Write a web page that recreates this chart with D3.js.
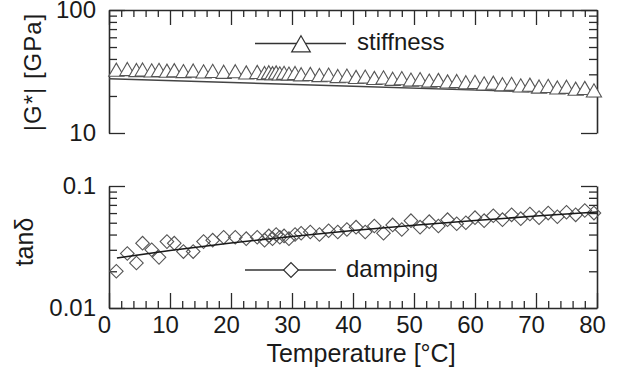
<!DOCTYPE html>
<html>
<head>
<meta charset="utf-8">
<script src="https://cdnjs.cloudflare.com/ajax/libs/d3/7.8.5/d3.min.js"></script>
<style>
  html, body { margin: 0; padding: 0; background: #fff; }
  svg { display: block; font-family: "Liberation Sans", Arial, Helvetica, sans-serif; }
</style>
</head>
<body>
<svg id="chart" width="624" height="374"></svg>
<script>
// ---------- data ----------
const temps = [1.2, 3, 4.5, 5.5, 7, 8.2, 9.5, 10.7, 12.2, 13.8, 15.5, 17, 18.8, 20.7, 22.5,
  24.3, 25.5, 26.2, 26.8, 27.4, 28, 28.7, 29.5, 30.5, 31.5, 33, 34.5, 36, 37.5, 39,
  40.5, 42, 43.5, 45, 46.5, 48, 49.5, 51, 52.5, 54, 55.5, 57, 58.5, 60, 61.5,
  63, 64.5, 66, 67.5, 69, 70.5, 72, 73.5, 75, 76.5, 78, 79.5];

const stiffness = [31.4, 31.8, 31.2, 31.5, 31.0, 31.3, 30.8, 31.1, 30.6, 30.9, 30.4, 30.7, 30.2, 30.5, 29.8,
  30.1, 29.5, 29.9, 29.4, 29.8, 29.3, 29.6, 29.2, 29.5, 28.8, 29.0, 28.4, 28.6, 27.9, 28.1,
  27.4, 27.6, 26.9, 27.2, 26.5, 26.8, 26.1, 26.3, 25.6, 25.9, 25.2, 25.4, 24.8, 25.0, 24.3,
  24.6, 23.9, 24.1, 23.4, 23.7, 22.9, 23.2, 22.5, 22.8, 22.0, 22.3, 21.3];

const damping = [0.020, 0.028, 0.0234, 0.034, 0.030, 0.026, 0.035, 0.034, 0.029, 0.029, 0.035, 0.036, 0.038, 0.038, 0.037,
  0.038, 0.036, 0.039, 0.037, 0.040, 0.038, 0.039, 0.037, 0.040, 0.041, 0.042, 0.040, 0.043, 0.042, 0.044,
  0.046, 0.042, 0.047, 0.041, 0.048, 0.044, 0.052, 0.046, 0.051, 0.047, 0.053, 0.049, 0.050, 0.055, 0.052,
  0.057, 0.053, 0.058, 0.054, 0.059, 0.055, 0.060, 0.056, 0.061, 0.058, 0.063, 0.060];

const stiffFitT = [0, 40, 80];
const stiffFit = [27.6, 24.0, 20.8];
const dampFitT = [1.3, 10, 20, 30, 40, 50, 60, 70, 80];
const dampFit = [0.0257, 0.0296, 0.0341, 0.0386, 0.0432, 0.0477, 0.0522, 0.0567, 0.0612];

const xMajor = [0, 10, 20, 30, 40, 50, 60, 70, 80];
const xMinor = [2, 4, 6, 8, 12, 14, 16, 18, 22, 24, 26, 28, 32, 34, 36, 38, 42, 44, 46, 48,
  52, 54, 56, 58, 62, 64, 66, 68, 72, 74, 76, 78];
const stiffMajor = [10, 100];
const stiffMinor = [20, 30, 40, 50, 60, 70, 80, 90];
const dampMajor = [0.01, 0.1];
const dampMinor = [0.02, 0.03, 0.04, 0.05, 0.06, 0.07, 0.08, 0.09];

const legendStiff = "stiffness";
const legendDamp = "damping";

// ---------- scales ----------
const svg = d3.select("#chart");
const x = d3.scaleLinear().domain([0, 80]).range([109, 597]);
const yS = d3.scaleLog().domain([10, 100]).range([133, 10]);
const yD = d3.scaleLog().domain([0.01, 0.1]).range([308, 186]);

const AX = "#2a2a2a";
const MK = "#555";
const FONT = '"Liberation Sans", Arial, Helvetica, sans-serif';

function styleAxis(g, keepDomain) {
  g.attr("font-family", FONT).attr("font-size", 24);
  g.selectAll("line").attr("stroke", AX).attr("stroke-width", 1.3);
  if (keepDomain) g.select(".domain").attr("stroke", AX).attr("stroke-width", 1.6);
  else g.select(".domain").remove();
  g.selectAll("text").attr("fill", "#1a1a1a");
}

function addAxis(axisGen, translate, values, inner, labels, keepDomain, pad) {
  const a = axisGen.tickValues(values).tickSizeInner(inner).tickSizeOuter(0)
    .tickPadding(pad || 3)
    .tickFormat(labels ? (d => String(d)) : () => "");
  const g = svg.append("g").attr("transform", translate).call(a);
  styleAxis(g, keepDomain);
  return g;
}

// ---------- top panel (stiffness) ----------
addAxis(d3.axisTop(x), "translate(0,10)", xMinor, -7, false, true);
addAxis(d3.axisTop(x), "translate(0,10)", xMajor, -15, false, false);
addAxis(d3.axisLeft(yS), "translate(109,0)", stiffMinor, -8, false, true);
addAxis(d3.axisLeft(yS), "translate(109,0)", stiffMajor, -16, true, false, 13);
addAxis(d3.axisRight(yS), "translate(597,0)", stiffMinor, -8, false, true);
addAxis(d3.axisRight(yS), "translate(597,0)", stiffMajor, -16, false, false);

// ---------- bottom panel (damping) ----------
addAxis(d3.axisBottom(x), "translate(0,308)", xMinor, -7, false, true);
const xb = addAxis(d3.axisBottom(x), "translate(0,308)", xMajor, -15, true, false, 8);
xb.selectAll("text").attr("x", -5);
addAxis(d3.axisLeft(yD), "translate(109,0)", dampMinor, -8, false, true);
addAxis(d3.axisLeft(yD), "translate(109,0)", dampMajor, -16, true, false, 13);
addAxis(d3.axisRight(yD), "translate(597,0)", dampMinor, -8, false, true);
addAxis(d3.axisRight(yD), "translate(597,0)", dampMajor, -16, false, false);

// ---------- stiffness marks ----------
const lineS = d3.line().x((d, i) => x(stiffFitT[i])).y(d => yS(d));
svg.append("path").datum(stiffFit).attr("d", lineS)
  .attr("fill", "none").attr("stroke", "#444").attr("stroke-width", 1.4);

const tri = d3.symbol(d3.symbolTriangle, 100);
svg.append("g").selectAll("path").data(stiffness).join("path")
  .attr("d", tri)
  .attr("transform", (d, i) => `translate(${x(temps[i])},${yS(d)})`)
  .attr("fill", "#fff").attr("stroke", MK).attr("stroke-width", 1.1);

// ---------- damping marks ----------
const dia = d3.symbol(d3.symbolSquare, 92);
svg.append("g").selectAll("path").data(damping).join("path")
  .attr("d", dia)
  .attr("transform", (d, i) => `translate(${x(temps[i])},${yD(d)}) rotate(45)`)
  .attr("fill", "none").attr("stroke", MK).attr("stroke-width", 1.1);

const lineD = d3.line().x((d, i) => x(dampFitT[i])).y(d => yD(d));
svg.append("path").datum(dampFit).attr("d", lineD)
  .attr("fill", "none").attr("stroke", "#1a1a1a").attr("stroke-width", 1.6);

// ---------- legends ----------
svg.append("line").attr("x1", 255).attr("x2", 346).attr("y1", 43.5).attr("y2", 43.5)
  .attr("stroke", "#333").attr("stroke-width", 1.3);
svg.append("path").attr("d", d3.symbol(d3.symbolTriangle, 150))
  .attr("transform", "translate(301,46.5)")
  .attr("fill", "#fff").attr("stroke", "#333").attr("stroke-width", 1.2);
svg.append("text").attr("x", 357).attr("y", 50).attr("font-size", 24)
  .attr("font-family", FONT).attr("fill", "#1a1a1a").text(legendStiff);

svg.append("line").attr("x1", 245).attr("x2", 336).attr("y1", 270).attr("y2", 270)
  .attr("stroke", "#333").attr("stroke-width", 1.3);
svg.append("path").attr("d", d3.symbol(d3.symbolSquare, 110))
  .attr("transform", "translate(291,270) rotate(45)")
  .attr("fill", "#fff").attr("stroke", "#333").attr("stroke-width", 1.2);
svg.append("text").attr("x", 346).attr("y", 277).attr("font-size", 24)
  .attr("font-family", FONT).attr("fill", "#1a1a1a").text(legendDamp);

// ---------- axis titles ----------
svg.append("text").attr("transform", "translate(41,72) rotate(-90)")
  .attr("text-anchor", "middle").attr("font-size", 24).attr("letter-spacing", 1)
  .attr("font-family", FONT).attr("fill", "#1a1a1a").text("|G*| [GPa]");
svg.append("text").attr("transform", "translate(33,242) rotate(-90)")
  .attr("text-anchor", "middle").attr("font-size", 25)
  .attr("font-family", FONT).attr("fill", "#1a1a1a").text("tanδ");
svg.append("text").attr("x", 361).attr("y", 362)
  .attr("text-anchor", "middle").attr("font-size", 25)
  .attr("font-family", FONT).attr("fill", "#1a1a1a").text("Temperature [°C]");
</script>
</body>
</html>
